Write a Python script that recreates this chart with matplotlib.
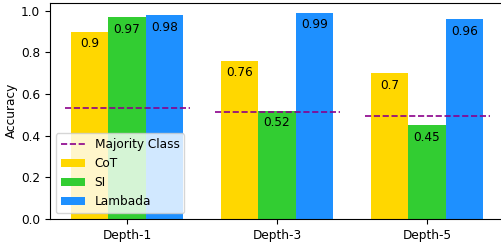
import matplotlib
matplotlib.use("Agg")
import matplotlib.pyplot as plt
import numpy as np

categories = ["Depth-1", "Depth-3", "Depth-5"]
cot = [0.90, 0.76, 0.70]
si = [0.97, 0.52, 0.45]
lambada = [0.98, 0.99, 0.96]
majority = [0.535, 0.513, 0.495]
series_names = ["CoT", "SI", "Lambada"]
colors = ["#FFD700", "#32CD32", "#1E90FF"]

fs = 8.7
plt.rcParams['font.size'] = fs
fig = plt.figure(figsize=(5.02, 2.44), dpi=100)
ax = fig.add_axes([0.0996, 0.1025, 0.904, 0.887])

x = np.arange(len(categories))
w = 0.25
for k, (vals, name, c) in enumerate(zip([cot, si, lambada], series_names, colors)):
    pos = x + (k - 1) * w
    ax.bar(pos, vals, w, color=c, label=name)
    for p, v in zip(pos, vals):
        ax.text(p, v - 0.058, f"{v:g}", ha='center', va='center', fontsize=fs)

for i, m in enumerate(majority):
    ax.hlines(m, i - 0.41, i + 0.42, colors='#8B008B', linestyles='--',
              linewidth=1.2, label='Majority Class' if i == 0 else None)

ax.set_xticks(x)
ax.set_xticklabels(categories)
ax.set_ylabel("Accuracy", labelpad=2)
ax.set_xlim(-0.5125, 2.5125)
ax.set_ylim(0, 1.0395)

handles, labels = ax.get_legend_handles_labels()
order = [labels.index('Majority Class')] + [labels.index(n) for n in series_names]
ax.legend([handles[i] for i in order], [labels[i] for i in order],
          loc='lower left', framealpha=0.8, fontsize=fs)

fig.savefig("out.png", dpi=100)
